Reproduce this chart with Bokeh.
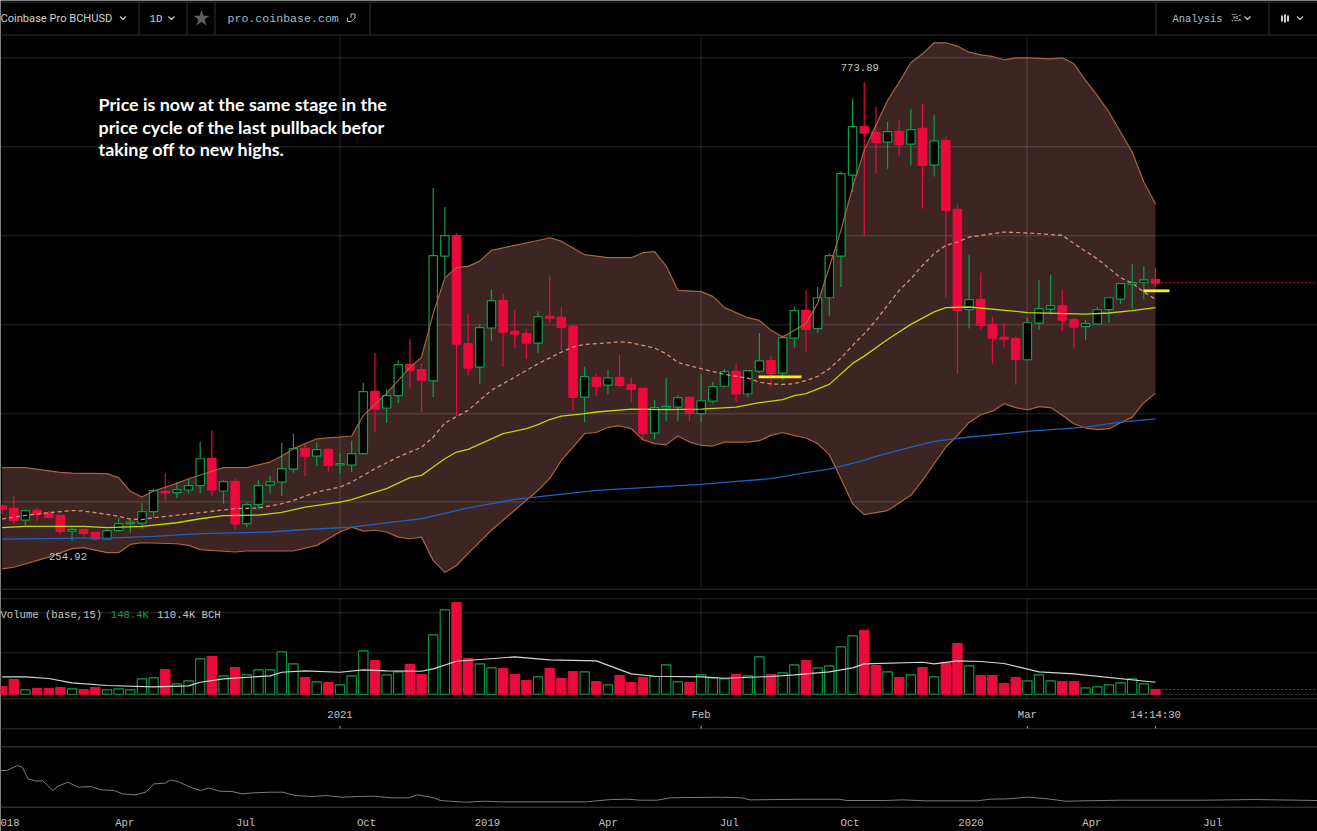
from bokeh.plotting import figure
from bokeh.models import Range1d, LogScale
from bokeh.core.properties import value
from bokeh.embed import file_html
from bokeh.resources import INLINE

# ---------- daily candles (USD) ----------
opens = [277.2,275.7,267.9,274.4,272.4,271.0,260.9,262.0,260.1,255.8,
         261.2,265.6,266.0,273.5,287.3,286.4,288.2,291.3,311.1,287.5,
         294.3,265.6,278.1,291.7,293.8,303.2,318.8,312.9,318.1,306.2,
         306.2,314.8,366.1,351.6,362.3,390.8,385.8,375.5,508.1,533.9,
         410.9,388.2,426.8,456.3,423.4,421.0,411.5,439.0,438.1,428.5,
         361.0,378.6,371.6,378.6,372.3,368.7,330.9,351.6,352.4,360.8,
         346.8,357.5,370.6,384.2,363.7,384.5,394.5,382.6,416.5,445.5,
         426.2,459.3,508.1,618.3,695.3,685.8,669.7,687.4,666.5,692.4,
         633.5,672.4,569.0,446.3,457.4,430.6,417.2,416.1,395.2,431.9,
         446.9,450.6,435.5,428.2,430.9,446.3,457.7,474.7,476.3,480.0]
closes = [275.0,267.7,274.2,271.7,269.7,260.7,262.0,259.4,255.8,261.2,
          265.6,266.6,273.5,287.8,286.1,288.5,291.3,310.9,288.2,294.1,
          265.4,278.1,291.3,294.1,303.5,318.6,312.9,317.8,305.9,307.2,
          314.8,365.8,350.5,362.3,390.5,385.2,376.1,508.6,533.9,410.5,
          387.3,427.2,456.0,422.6,420.6,411.5,438.7,437.2,427.5,360.8,
          379.3,370.5,378.3,371.4,367.8,330.6,351.9,353.0,360.5,347.1,
          357.8,370.2,383.9,363.7,384.9,394.2,382.3,416.9,445.2,425.4,
          459.3,508.6,620.4,695.3,684.6,669.2,686.9,666.0,690.3,633.0,
          671.9,567.7,445.5,457.1,429.6,416.5,415.4,395.5,432.3,447.3,
          450.6,435.0,427.8,431.3,446.3,459.3,475.2,476.6,479.7,475.9]
highs = [278.3,284.0,275.0,275.9,273.9,271.0,263.1,262.0,260.3,262.2,
         269.5,268.4,279.2,288.9,299.9,293.8,296.2,324.0,333.0,295.5,
         296.2,279.5,295.5,298.4,323.2,330.4,322.5,323.2,319.4,315.2,
         324.8,373.8,401.7,367.6,394.5,415.9,391.4,599.2,572.2,537.8,
         441.9,430.6,468.4,463.9,445.5,426.2,444.4,484.0,448.7,429.9,
         388.6,381.7,385.8,399.9,378.3,368.7,358.7,378.2,362.5,360.8,
         382.0,374.5,386.7,391.4,385.2,421.6,398.7,419.3,449.1,467.6,
         471.3,511.8,623.9,744.0,773.89,729.8,703.6,705.8,726.3,735.1,
         715.8,679.1,575.5,509.8,488.1,438.7,432.3,418.2,437.6,479.7,
         485.7,468.4,437.6,435.5,449.1,459.3,475.9,498.8,495.6,493.5]
lows = [271.7,265.8,264.5,267.3,269.2,258.8,254.92,257.3,255.0,255.4,
        260.3,259.9,262.4,269.5,280.8,282.9,285.7,286.1,284.0,278.8,
        261.8,263.1,275.5,285.7,284.3,300.6,298.1,305.7,301.3,300.0,
        301.1,314.8,331.7,339.0,355.8,368.5,348.2,361.0,482.8,344.8,
        380.5,372.9,413.4,388.2,406.6,395.8,401.7,431.9,404.6,349.6,
        339.7,361.9,363.6,369.9,356.7,325.5,326.0,340.5,340.5,340.5,
        339.7,355.3,369.3,356.7,360.5,382.7,369.9,375.8,407.0,402.6,
        422.0,439.7,471.3,593.4,534.4,620.4,628.0,648.1,633.0,570.0,
        616.1,459.3,382.1,426.2,425.1,391.4,407.0,372.0,394.5,425.1,
        440.9,423.7,406.0,414.8,430.6,432.3,452.3,447.3,457.7,471.3]

# ---------- volume (thousands BCH) ----------
volumes = [92,176,52,68,68,80,64,56,80,52,
           64,52,184,196,296,124,160,424,452,220,
           320,232,292,292,508,364,200,148,140,112,
           220,520,404,232,268,356,236,712,1012,1100,
           428,364,316,308,236,164,208,308,188,272,
           268,152,112,224,140,200,216,352,148,140,
           232,196,184,236,220,448,236,256,352,404,
           316,340,568,700,764,344,268,200,232,320,
           208,376,608,340,224,224,128,200,160,232,
           160,152,152,76,88,112,136,184,124,56]
vol_ma_idx = [0,2,4,6,9,13,16,17,19,23,24,26,29,31,33,36,37,39,44,47,51,54,
              56,60,62,66,68,71,73,74,79,80,82,84,86,89,92,99]
vol_ma = [208,208,188,136,104,88,100,144,184,220,264,280,264,292,280,276,304,396,448,412,400,244,
          216,208,192,212,232,268,316,364,384,364,400,392,368,268,244,144]

# ---------- Bollinger bands and moving averages (USD) ----------
upper_idx = [0,2,5,6,9,10,11,12,13,15,16,18,19,21,23,24,25,27,30,31,33,35,36,37,38,39,40,41,42,44,46,47,48,50,
             52,54,55,56,57,58,60,61,62,64,65,66,67,68,69,70,71,72,73,74,75,76,77,78,79,80,81,82,83,84,85,86,87,88,
             90,91,92,93,94,95,96,97,98,99]
upper = [304.3,304.3,300.8,300.3,299.9,297.0,287.3,283.3,287.5,292.9,296.2,301.6,304.3,304.3,308.4,312.9,318.6,326.3,
         328.5,345.3,364.3,388.0,397.7,441.9,482.0,494.0,495.6,501.9,515.2,521.5,527.7,531.2,526.8,509.8,
         506.1,506.1,512.3,513.6,495.9,467.6,466.1,460.8,448.4,437.6,434.7,424.4,417.5,424.4,431.6,453.1,494.7,540.8,
         600.6,656.5,697.5,740.9,774.5,811.8,829.6,852.1,852.1,845.1,832.9,827.6,824.3,817.7,821.6,821.6,
         819.6,821.6,809.8,777.7,750.1,720.4,686.3,653.8,607.8,576.9]
lower_idx = [0,1,4,6,7,9,10,11,12,15,16,17,20,21,25,27,29,30,31,32,33,34,35,36,37,38,39,40,42,44,46,47,48,49,50,51,
             52,53,54,55,56,57,58,59,60,61,62,64,65,66,67,68,69,70,71,72,73,74,76,78,79,80,81,82,83,84,85,86,87,88,
             89,90,91,92,93,94,95,96,97,98,99]
lower = [238.1,239.0,244.9,250.0,250.6,247.6,247.6,252.6,253.6,253.0,252.0,249.4,248.0,248.6,248.6,252.0,260.3,263.4,
         260.9,261.4,260.3,257.1,256.1,257.1,243.0,236.0,240.0,247.2,261.4,274.4,288.0,296.4,309.6,319.8,330.5,331.3,
         335.5,336.8,334.4,325.5,322.5,321.7,328.5,323.7,321.2,320.6,323.7,323.7,324.8,329.0,331.3,328.8,326.9,322.5,
         314.0,296.2,278.8,271.5,274.2,284.5,295.0,307.2,319.8,328.9,339.5,345.9,348.9,355.3,351.9,349.9,
         352.7,351.9,345.4,338.4,334.9,333.6,334.4,339.2,343.9,356.1,364.5]
mid_idx = [0,2,4,6,7,9,10,11,12,13,17,20,22,24,25,27,29,30,32,34,35,36,37,38,40,42,44,46,48,49,50,52,53,54,56,57,58,
           60,62,64,65,66,67,68,69,70,71,72,73,74,75,76,77,78,79,80,81,82,83,86,88,91,92,94,96,97,98,99]
mid = [268.6,271.0,272.8,274.2,273.9,271.7,270.4,268.6,268.2,269.5,272.8,275.5,275.9,278.8,281.0,286.8,290.3,293.8,
       303.5,312.2,316.0,319.6,327.7,339.0,349.6,367.0,378.9,391.4,402.6,407.5,410.2,411.8,412.8,411.8,406.6,401.0,392.6,
       386.7,381.4,378.0,374.3,372.7,372.3,372.9,375.8,379.5,386.7,396.8,409.2,421.0,434.7,450.9,467.6,480.8,496.7,
       511.1,521.5,525.6,532.0,538.6,537.3,534.4,523.6,504.8,482.1,475.8,465.7,457.7]
ma_yellow_idx = [0,2,7,9,12,15,17,19,22,24,26,29,30,32,33,34,35,36,37,38,39,40,42,43,45,46,47,48,50,51,54,57,60,63,
                 65,67,68,69,71,73,74,76,78,80,81,83,87,88,93,95,97,99]
ma_yellow = [263.1,263.9,263.9,263.1,263.9,266.2,268.8,270.8,271.2,273.0,276.5,279.9,281.5,286.8,289.2,293.1,297.0,
             298.6,304.7,310.9,316.0,318.1,326.3,330.4,334.4,337.7,341.9,344.8,346.8,348.2,350.7,350.2,350.7,352.4,
             356.1,358.8,362.3,364.0,372.3,391.7,398.7,415.1,430.6,443.9,448.4,449.1,444.4,443.0,441.5,442.6,445.2,448.4]
ma_blue_idx = [0,7,9,13,17,23,26,30,34,36,38,40,44,51,60,63,66,69,71,74,75,78,80,83,84,88,93,96,99]
ma_blue = [255.8,256.5,256.5,257.5,259.3,260.3,261.9,263.4,267.1,268.8,272.4,276.0,281.7,288.0,292.2,294.3,296.2,
           300.6,303.2,309.6,312.7,319.8,324.2,327.7,328.5,332.2,335.7,339.7,342.5]

# ---------- navigator line (months since Jan 2018, USD) ----------
nav_month = [-0.08,0.07,0.34,0.46,0.60,0.81,0.96,1.22,1.33,1.59,1.85,2.16,2.42,2.74,2.95,3.26,3.52,3.73,3.99,4.15,
             4.36,4.62,4.88,5.09,5.35,5.66,5.92,6.18,6.60,6.92,7.23,7.65,8.01,8.38,8.80,9.21,9.63,10.05,10.26,10.68,
             10.83,11.46,11.93,12.35,14.43,15.06,15.48,15.79,16.22,16.53,16.95,17.79,18.31,18.52,19.88,20.71,20.92,
             21.86,22.28,22.90,24.16,24.47,24.89,25.41,25.83,26.35,27.71,29.80,31.05,32.6]
nav_price = [2016,2016,2291,2200,1558,1430,1466,916,1137,1375,1100,1137,953,916,733,678,825,1283,1320,1503,
             1375,1100,916,1063,880,862,733,788,825,825,642,587,642,550,587,605,513,513,678,513,
             367,275,330,293,293,421,440,385,385,513,532,550,513,403,440,440,367,
             367,403,348,348,440,458,550,477,330,385,385,421,367]

# ---------- labels ----------
high_label, low_label = "773.89", "254.92"
top_tick_idx = [29, 60, 88, 99]
top_tick_labels = ["2021", "Feb", "Mar", "14:14:30"]
nav_tick_month = [0, 3, 6, 9, 12, 15, 18, 21, 24, 27, 30]
nav_tick_labels = ["2018", "Apr", "Jul", "Oct", "2019", "Apr", "Jul", "Oct", "2020", "Apr", "Jul"]
note_lines = ["Price is now at the same stage in the",
              "price cycle of the last pullback befor",
              "taking off to new highs."]
last_price = 476.3
last_volume = 56

RED, GREEN = "#ea0a3c", "#0b9f4a"
MONO = value("Liberation Mono")
W, H = 1317, 831

p = figure(width=W, height=H, x_axis_type=None, y_axis_type=None, toolbar_location=None,
           output_backend="svg", min_border=0, background_fill_color="#000000",
           border_fill_color="#000000", outline_line_color=None,
           x_range=Range1d(0, W), y_range=Range1d(H, 0))
p.grid.visible = False

STEP, X0 = 11.65, 1.65
p.extra_x_ranges["idx"] = Range1d(-X0 / STEP, (W - X0) / STEP)
p.extra_x_ranges["nav"] = Range1d(-3.3 / 40.3, (W - 3.3) / 40.3)
p.extra_y_ranges["price"] = Range1d(125.95, 944.07)
p.extra_y_scales["price"] = LogScale()
p.extra_y_ranges["vol"] = Range1d(-1647.6, 8324.4)
p.extra_y_ranges["navp"] = Range1d(-1336.5, 44368.5)

PK = dict(x_range_name="idx", y_range_name="price")
VK = dict(x_range_name="idx", y_range_name="vol")

# band
p.patch(upper_idx + lower_idx[::-1], upper + lower[::-1], fill_color="#3c2522", line_color=None, **PK)

# grid, on top of the band
GRID = dict(line_color="#ffffff", line_alpha=0.16, line_width=1)
grid_y = [57.3, 146.3, 235.3, 324.3, 413.3, 501.3, 598.3, 612.3, 652.3, 693.7]
p.segment([0] * len(grid_y), grid_y, [W] * len(grid_y), grid_y, **GRID)
for gx in (339.5, 700.5, 1026.5):
    p.segment([gx, gx], [34.5, 598.3], [gx, gx], [588.7, 698.3], **GRID)
frame_y = [1.5, 34.5, 588.7, 698.3, 728.3]
p.segment([0] * len(frame_y), frame_y, [W] * len(frame_y), frame_y, line_color="#303030", line_width=1)
p.segment([0, 0], [746.3, 806.7], [W, W], [746.3, 806.7], line_color="#444444", line_width=1)
for sx in (138.5, 186.5, 214.5, 369.5, 1155.5, 1268.5):
    p.segment([sx], [1.5], [sx], [34.5], line_color="#303030", line_width=1)

# candles
idx = list(range(len(opens)))
up = [c >= o for o, c in zip(opens, closes)]
colors = [GREEN if u else RED for u in up]
p.segment(idx, highs, idx, lows, line_color=colors, line_width=1.2, **PK)
body_top = [max(o, c) for o, c in zip(opens, closes)]
body_bot = [min(o, c) for o, c in zip(opens, closes)]
fills = ["#000000" if u else RED for u in up]
p.vbar(idx, 0.72, body_bot, body_top, fill_color=fills, line_color=colors, line_width=1.2, **PK)

# indicator lines
p.line(upper_idx, upper, line_color="#a9643a", line_width=1.2, **PK)
p.line(lower_idx, lower, line_color="#a9643a", line_width=1.2, **PK)
p.line(mid_idx, mid, line_color="#d98f74", line_width=1.3, line_dash="4 3", **PK)
p.line(ma_yellow_idx, ma_yellow, line_color="#bdd80e", line_width=1.3, **PK)
p.line(ma_blue_idx, ma_blue, line_color="#1c62c4", line_width=1.3, **PK)

# hand-drawn yellow marks
p.segment([758, 1143], [376.3, 290.3], [801, 1169], [376.3, 290.3], line_color="#fff000", line_width=2.8)

# last price dotted line
p.line([99.5, (W - X0) / STEP], [last_price, last_price], line_color=RED, line_width=1, line_dash="2 2", **PK)

# volume
p.vbar(idx, 0.8, [0] * len(idx), volumes, fill_color=fills, line_color=colors, line_width=1.1, **VK)
p.line(vol_ma_idx, vol_ma, line_color="#d6d6d6", line_width=1.1, **VK)
p.line([99.5, (W - X0) / STEP], [last_volume, last_volume], line_color=RED, line_width=1, line_dash="2 2", **VK)

# navigator
p.line(nav_month, nav_price, line_color="#7c7c7c", line_width=1, x_range_name="nav", y_range_name="navp")


def txt(x, y, s, color="#c4c4c4", size="10.6px", font=MONO, align="center", **kw):
    p.text([x], [y], text=[s], text_color=color, text_font=font, text_font_size=size,
           text_align=align, text_baseline="middle", **kw)


# price extremes
txt(859.3, 67.3, high_label)
txt(67.5, 555.7, low_label)

# date axis
for i, s in zip(top_tick_idx, top_tick_labels):
    p.text([i], [714.3], text=[s], text_color="#c4c4c4", text_font=MONO, text_font_size="10.6px",
           text_align="center", text_baseline="middle", x_range_name="idx")
    p.segment([i], [725.5], [i], [728], line_color="#aaaaaa", line_width=1, x_range_name="idx")
p.text(nav_tick_month[1:], [822] * 10, text=nav_tick_labels[1:], text_color="#c4c4c4", text_font=MONO,
       text_font_size="10.6px", text_align="center", text_baseline="middle", x_range_name="nav")
txt(0, 822, nav_tick_labels[0][1:], align="left")

# volume legend
txt(0, 614.3, "Volume (base,15)", align="left")
txt(110.3, 614.3, "148.4K", color="#0b9f4a", align="left")
txt(156.6, 614.3, "110.4K BCH", align="left")

# annotation
for ly, s in zip((103.5, 126, 148.5), note_lines):
    txt(98, ly, s, color="#ffffff", size="17.9px", font=value("Lato"), align="left", text_font_style="bold")

# top bar
txt(0, 18, "Coinbase Pro BCHUSD", color="#cfcfcf", size="11.1px", font=value("Roboto"), align="left")
txt(149, 18, "1D", color="#cfcfcf", size="10.8px", align="left")
p.scatter([201], [18], marker="star", size=17, fill_color="#5f5f5f", line_color=None)
txt(227, 18, "pro.coinbase.com", color="#a6b8c6", size="11.6px", align="left")
txt(1172, 18, "Analysis", color="#a6c0d4", size="10.4px", align="left")

# chevrons
for cx in (122.5, 171, 1247, 1299.5):
    p.line([cx - 3, cx, cx + 3], [16, 19, 16], line_color="#c8c8c8", line_width=1.2)
# copy icon
p.line([347, 347, 350.5, 354.5, 354.5, 350.5, 350.5], [17, 21, 21, 17.5, 13.5, 13.5, 17.5],
       line_color="#a6b8c6", line_width=1)
# analysis icon
p.segment([1231, 1231, 1233, 1233], [14, 20, 18, 16], [1236, 1241, 1241, 1241], [14, 20, 14, 20],
          line_color="#8f9ba5", line_width=1.2, line_dash="2 1")
# candles icon
p.segment([1281.5, 1284.5, 1287.5], [15, 14, 15], [1281.5, 1284.5, 1287.5], [21, 22, 21],
          line_color="#d0d0d0", line_width=2)

open("out.html", "w").write(file_html(p, INLINE))
